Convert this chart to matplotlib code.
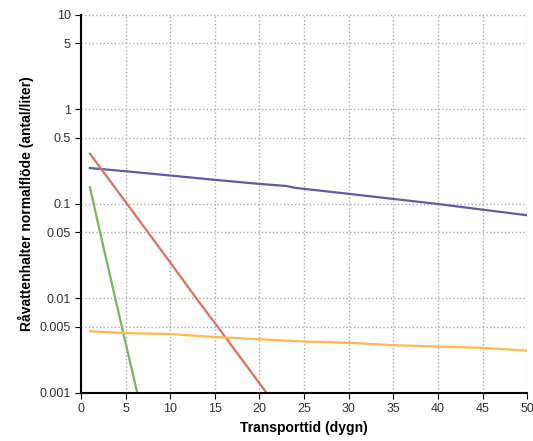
import matplotlib.pyplot as plt
from matplotlib.ticker import FixedLocator, NullLocator

plt.rcParams['font.family'] = ['Liberation Sans', 'DejaVu Sans']

# data
blue_x = [1, 5, 10, 15, 20, 23, 24, 30, 35, 40, 45, 50]
blue_y = [0.24, 0.222, 0.2, 0.18, 0.163, 0.155, 0.148, 0.128, 0.113, 0.1, 0.087, 0.076]

red_x = [1, 5, 10, 13, 15, 20.8]
red_y = [0.34, 0.105, 0.024, 0.0098, 0.0055, 0.001]

green_x = [1, 3, 6.3]
green_y = [0.15, 0.022, 0.001]

orange_x = [1, 5, 10, 15, 20, 25, 30, 35, 40, 45, 50]
orange_y = [0.0045, 0.0043, 0.0042, 0.0039, 0.0037, 0.0035, 0.0034, 0.0032, 0.0031, 0.003, 0.0028]

yticks = [0.001, 0.005, 0.01, 0.05, 0.1, 0.5, 1, 5, 10]
ylabels = ['0.001', '0.005', '0.01', '0.05', '0.1', '0.5', '1', '5', '10']
xticks = list(range(0, 51, 5))

fig = plt.figure(figsize=(5.33, 4.41), dpi=100)
ax = fig.add_axes([0.152, 0.109, 0.837, 0.857])

ax.plot(blue_x, blue_y, color='#5b5ba8', lw=1.6)
ax.plot(red_x, red_y, color='#d9735f', lw=1.6)
ax.plot(green_x, green_y, color='#7ab45c', lw=1.6)
ax.plot(orange_x, orange_y, color='#ffb84e', lw=1.6)

ax.set_yscale('log')
ax.set_ylim(0.001, 10)
ax.set_xlim(0, 50)
ax.yaxis.set_major_locator(FixedLocator(yticks))
ax.yaxis.set_minor_locator(NullLocator())
ax.set_yticklabels(ylabels)
ax.set_xticks(xticks)

ax.grid(True, color='#aaaaaa', linestyle=':', linewidth=1)
for s in ['top', 'right']:
    ax.spines[s].set_visible(False)
for s in ['left', 'bottom']:
    ax.spines[s].set_linewidth(1.5)
ax.tick_params(direction='out', length=4, labelsize=9, labelcolor='#333333')

ax.set_xlabel('Transporttid (dygn)', fontsize=10, fontweight='bold')
ax.set_ylabel('Råvattenhalter normalflöde (antal/liter)', fontsize=10, fontweight='bold')

fig.savefig('out.png')
